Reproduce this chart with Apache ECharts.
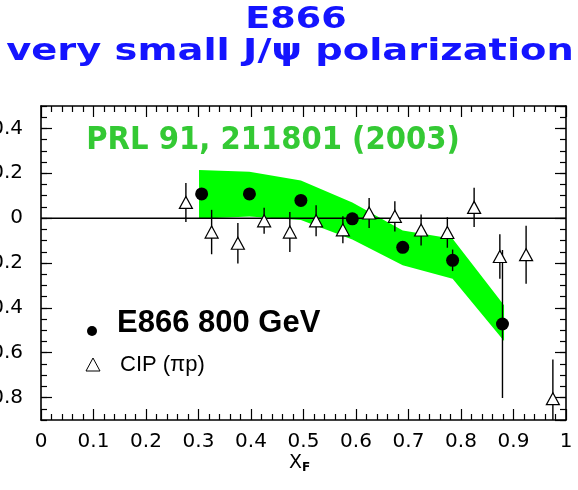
<!DOCTYPE html>
<html>
<head>
<meta charset="utf-8">
<script src="https://cdn.jsdelivr.net/npm/echarts@6/dist/echarts.min.js"></script>
<style>
  html, body { margin: 0; padding: 0; background: #ffffff; }
  #chart { width: 578px; height: 490px; }
</style>
</head>
<body>
<div id="chart"></div>
<script>
// E866 800 GeV J/psi polarization versus x_F
const e866X   = [0.306, 0.397, 0.495, 0.593, 0.689, 0.784, 0.879];
const e866Y   = [0.108, 0.108, 0.079, -0.003, -0.130, -0.188, -0.472];
const e866Err = [0.020, 0.020, 0.020, 0.020, 0.025, 0.048, 0.330];

// CIP (pi p) measurements
const cipX   = [0.276, 0.325, 0.375, 0.425, 0.474, 0.524, 0.575, 0.625, 0.674, 0.724, 0.774, 0.825, 0.874, 0.924, 0.975];
const cipY   = [0.070, -0.062, -0.112, -0.012, -0.062, -0.012, -0.052, 0.023, 0.008, -0.053, -0.064, 0.048, -0.171, -0.163, -0.805];
const cipErr = [0.087, 0.099, 0.090, 0.058, 0.089, 0.069, 0.060, 0.067, 0.067, 0.069, 0.068, 0.088, 0.099, 0.129, 0.175];

// Systematic band around the E866 points
const bandX  = [0.301, 0.397, 0.495, 0.593, 0.689, 0.784, 0.882];
const bandHi = [0.215, 0.207, 0.168, 0.070, -0.055, -0.092, -0.388];
const bandLo = [-0.003, 0.007, -0.008, -0.095, -0.210, -0.270, -0.548];

// Axis ranges
const xRange = [0, 1];
const yRange = [-0.9, 0.5];

const axisFont = '"DejaVu Sans", sans-serif';
const black = '#000000';

const chart = echarts.init(document.getElementById('chart'), null, { renderer: 'canvas' });

function clampY(pt, rect) {
  return [pt[0], Math.min(Math.max(pt[1], rect.y), rect.y + rect.height)];
}

function errorBars(xs, ys, errs, z) {
  return {
    type: 'custom',
    z: z,
    silent: true,
    data: xs.map((x, i) => [x, ys[i] - errs[i], ys[i] + errs[i]]),
    encode: { x: 0, y: [1, 2] },
    renderItem: (params, api) => {
      const rect = params.coordSys;
      const lo = clampY(api.coord([api.value(0), api.value(1)]), rect);
      const hi = clampY(api.coord([api.value(0), api.value(2)]), rect);
      return {
        type: 'line',
        shape: { x1: lo[0], y1: lo[1], x2: hi[0], y2: hi[1] },
        style: { stroke: black, lineWidth: 1.4 }
      };
    }
  };
}

const tickStyle = { color: black, width: 1.2 };

function frameX(position, labels) {
  return {
    type: 'value', position: position, min: xRange[0], max: xRange[1], interval: 0.1,
    axisLine: { show: true, onZero: false, lineStyle: { color: black, width: 1.6 } },
    axisTick: { show: true, inside: true, length: 11, lineStyle: tickStyle },
    minorTick: { show: true, splitNumber: 5, length: 6, lineStyle: tickStyle },
    axisLabel: { show: labels, margin: 12, color: black, fontSize: 20, fontFamily: axisFont },
    splitLine: { show: false }
  };
}

function frameY(position, labels, minor) {
  const ax = {
    type: 'value', position: position, min: yRange[0], max: yRange[1],
    axisLine: { show: !minor, onZero: false, lineStyle: { color: black, width: 1.6 } },
    axisTick: { show: true, inside: true, length: minor ? 6 : 11, lineStyle: tickStyle },
    axisLabel: { show: labels, margin: 18, color: black, fontSize: 20, fontFamily: axisFont,
                 showMinLabel: false, showMaxLabel: false },
    splitLine: { show: false }
  };
  if (minor) ax.interval = 0.05; else ax.splitNumber = 7;
  return ax;
}

const option = {
  backgroundColor: '#ffffff',
  animation: false,
  grid: { left: 41, right: 12, top: 106, bottom: 70, containLabel: false, outerBoundsMode: 'none' },
  xAxis: [frameX('bottom', true), frameX('top', false)],
  yAxis: [frameY('left', true, false), frameY('left', false, true),
          frameY('right', false, false), frameY('right', false, true)],
  graphic: [
    { type: 'text', x: 296, y: 20, scaleX: 1.22,
      style: { text: 'E866', fill: '#1414ff', font: 'bold 30px "DejaVu Sans"',
               align: 'center', verticalAlign: 'middle', textAlign: 'center', textVerticalAlign: 'middle' } },
    { type: 'text', x: 290, y: 52, scaleX: 1.28,
      style: { text: 'very small J/\u03c8 polarization', fill: '#1414ff', font: 'bold 30px "DejaVu Sans"',
               align: 'center', verticalAlign: 'middle', textAlign: 'center', textVerticalAlign: 'middle' } },
    { type: 'text', x: 273, y: 141, scaleX: 0.91,
      style: { text: 'PRL 91, 211801 (2003)', fill: '#34c934', font: 'bold 32px "DejaVu Sans"',
               align: 'center', verticalAlign: 'middle', textAlign: 'center', textVerticalAlign: 'middle' } },
    { type: 'circle', shape: { cx: 92, cy: 331, r: 5 }, style: { fill: black } },
    { type: 'text', x: 117, y: 323,
      style: { text: 'E866 800 GeV', fill: black, font: 'bold 31px "Liberation Sans"',
               align: 'left', verticalAlign: 'middle', textAlign: 'left', textVerticalAlign: 'middle' } },
    { type: 'polygon', shape: { points: [[93, 358], [100, 371], [86, 371]] },
      style: { fill: '#ffffff', stroke: black, lineWidth: 1 } },
    { type: 'text', x: 120, y: 365,
      style: { text: 'CIP (\u03c0p)', fill: black, font: '22px "Liberation Sans"',
               align: 'left', verticalAlign: 'middle', textAlign: 'left', textVerticalAlign: 'middle' } },
    { type: 'text', x: 289, y: 463,
      style: { text: 'X', fill: black, font: '19px "DejaVu Sans"',
               align: 'left', verticalAlign: 'middle', textAlign: 'left', textVerticalAlign: 'middle' } },
    { type: 'text', x: 302, y: 468,
      style: { text: 'F', fill: black, font: 'bold 12px "DejaVu Sans"',
               align: 'left', verticalAlign: 'middle', textAlign: 'left', textVerticalAlign: 'middle' } }
  ],
  series: [
    {
      // green band
      type: 'custom',
      z: 1,
      silent: true,
      data: [[bandX[0], bandHi[0]]],
      renderItem: (params, api) => {
        const pts = [];
        for (let i = 0; i < bandX.length; i++) pts.push(api.coord([bandX[i], bandHi[i]]));
        for (let i = bandX.length - 1; i >= 0; i--) pts.push(api.coord([bandX[i], bandLo[i]]));
        return { type: 'polygon', shape: { points: pts }, style: { fill: '#00ff00' } };
      }
    },
    {
      // zero line
      type: 'line',
      z: 2,
      silent: true,
      symbol: 'none',
      data: [[xRange[0], 0], [xRange[1], 0]],
      lineStyle: { color: black, width: 1.5 }
    },
    errorBars(cipX, cipY, cipErr, 3),
    errorBars(e866X, e866Y, e866Err, 3),
    {
      name: 'CIP (\u03c0p)',
      type: 'scatter',
      z: 4,
      symbol: 'triangle',
      symbolSize: [13, 12],
      data: cipX.map((x, i) => [x, cipY[i]]),
      itemStyle: { color: '#ffffff', borderColor: black, borderWidth: 1.2, opacity: 1 }
    },
    {
      name: 'E866 800 GeV',
      type: 'scatter',
      z: 5,
      symbol: 'circle',
      symbolSize: 13,
      data: e866X.map((x, i) => [x, e866Y[i]]),
      itemStyle: { color: black, opacity: 1 }
    }
  ]
};

chart.setOption(option);
</script>
</body>
</html>
